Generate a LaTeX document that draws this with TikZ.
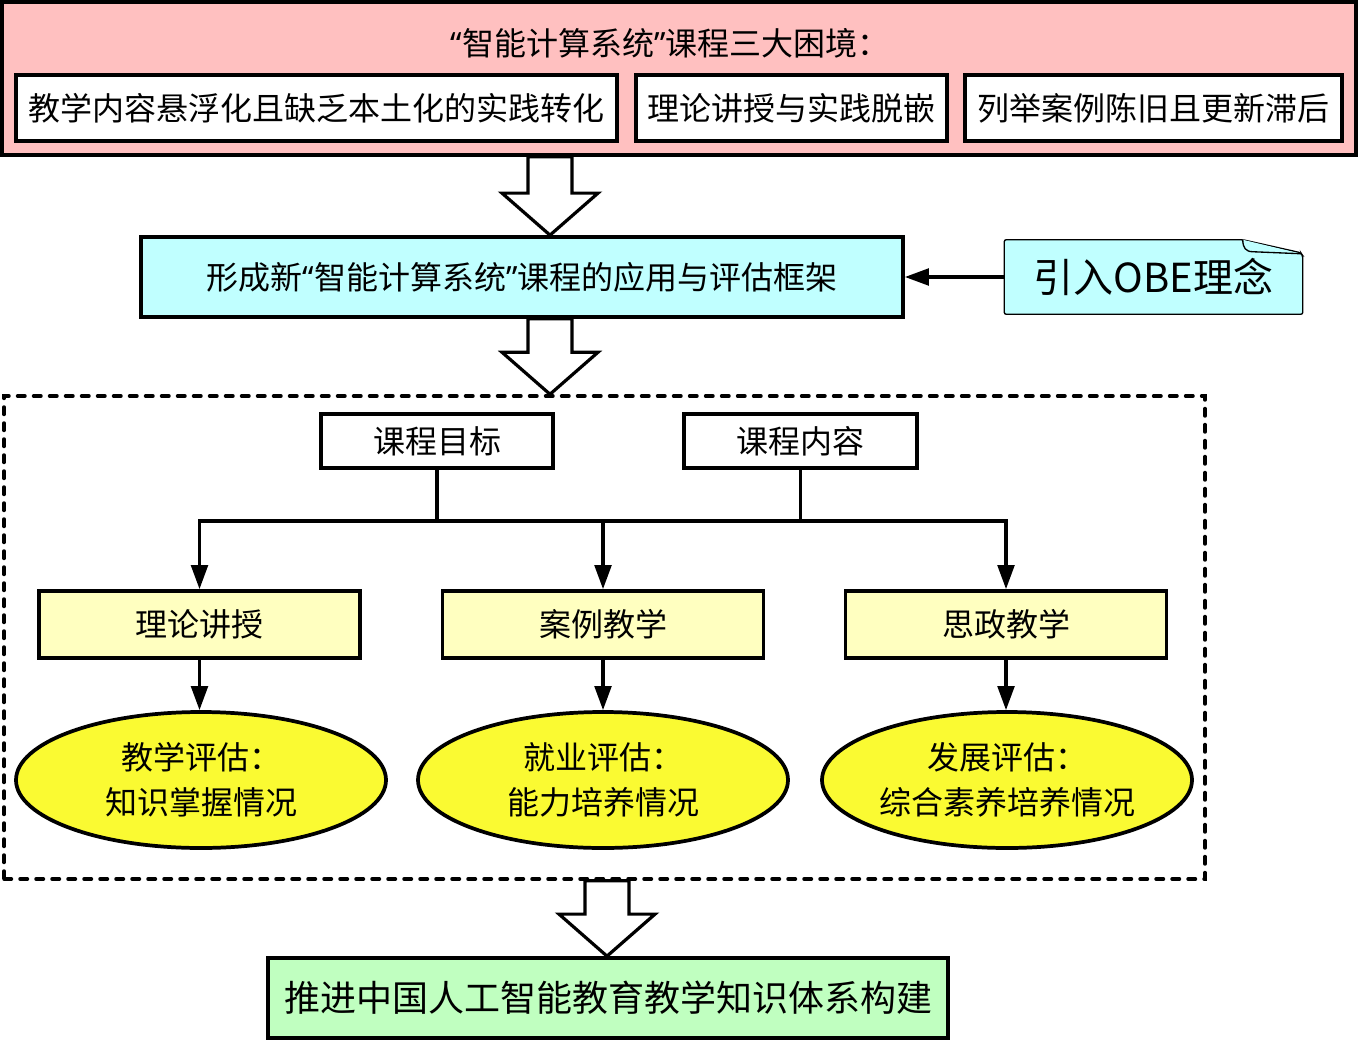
\documentclass[tikz,border=0pt]{standalone}
\usepackage{fontspec}
\setmainfont{Noto Sans CJK SC}
\newfontfamily\latinf{Noto Sans}
\usetikzlibrary{shapes.geometric,arrows.meta,calc}
\definecolor{pinkbg}{RGB}{255,192,192}
\definecolor{cyanbg}{RGB}{192,255,255}
\definecolor{ltyellow}{RGB}{255,255,192}
\definecolor{elyellow}{RGB}{250,250,50}
\definecolor{greenbg}{RGB}{192,255,192}
\newcommand\fs[1]{\fontsize{#1}{1.4\dimexpr#1\relax}\selectfont}
\newcommand\myLQ{{\latinf “}}
\newcommand\myRQ{{\latinf ”}}
\newcommand\blockarr[2]{%
  \draw[hollowarr] let \p1=(#1), \p2=(#2) in
    (\x1-16.5pt,\y1) -- (\x1-16.5pt,\y2+31.5pt) -- (\x1-36pt,\y2+31.5pt) --
    (\x1,\y2) -- (\x1+36pt,\y2+31.5pt) -- (\x1+16.5pt,\y2+31.5pt) --
    (\x1+16.5pt,\y1) -- cycle;}
\begin{document}
\begin{tikzpicture}[x=0.75pt,y=-0.75pt,
  box/.style={draw,line width=2.8pt,inner sep=0pt,align=center},
  ell/.style={ellipse,draw,line width=2.8pt,fill=elyellow,inner sep=0pt,
    minimum width=277.5pt,minimum height=102pt,align=center,font=\fs{24pt}},
  ybox/.style={box,fill=ltyellow,minimum width=240.75pt,minimum height=50.25pt,font=\fs{24pt}},
  wbox/.style={box,fill=white,minimum height=49.5pt,font=\fs{24pt}},
  arr/.style={line width=2.4pt,-{Triangle[length=18pt,width=12.5pt]}},
  conn/.style={line width=2.4pt},
  hollowarr/.style={draw,line width=2.4pt,fill=white,line join=miter}]
\useasboundingbox (0,0) rectangle (1358,1041);
\fill[white] (0,0) rectangle (1358,1041);

% top problem box
\node[box,fill=pinkbg,minimum width=1015.5pt,minimum height=114.75pt] (top) at (679,78.5) {};
\node[font=\fs{24pt}] (title) at (670,43) {\myLQ 智能计算系统\myRQ 课程三大困境：};
\node[wbox,minimum width=450.75pt] (p1) at (316.5,108) {教学内容悬浮化且缺乏本土化的实践转化};
\node[wbox,minimum width=233.25pt] (p2) at (791.5,108) {理论讲授与实践脱嵌};
\node[wbox,minimum width=282.75pt] (p3) at (1153.5,108) {列举案例陈旧且更新滞后};

% framework box
\node[box,fill=cyanbg,minimum width=571.5pt,minimum height=60pt,font=\fs{24pt}] (frame1) at (522,277) {形成新\myLQ 智能计算系统\myRQ 课程的应用与评估框架};

% OBE note
\node[inner sep=0pt,minimum width=223.5pt,minimum height=55.5pt] (note) at (1153.5,277) {};
\draw[line width=1pt,fill=cyanbg,rounded corners=1.5pt] (note.south west) -- (note.north west) -- ($(note.north east)+(-60,0)$)
  -- ($(note.north east)+(-2,13)$) -- ($(note.north east)+(0,16)$) -- (note.south east) -- cycle;
\draw[line width=1pt,fill=cyanbg] ($(note.north east)+(-60,0)$) .. controls ($(note.north east)+(-60,8)$) and ($(note.north east)+(-57,12)$) .. ($(note.north east)+(-50,12)$) -- ($(note.north east)+(-2,14)$);
\node[font=\fs{30pt},inner sep=0pt] (notetext) at (note.center) {引入OBE理念};
\draw[arr] (note.west) -- (frame1.east);

% dashed container
\node[draw,line width=2.6pt,line cap=round,dash pattern=on 5.6pt off 6.4pt,minimum width=900.75pt,minimum height=362.25pt,inner sep=0pt] (cont) at (604.5,637.5) {};

\node[wbox,minimum width=174pt,minimum height=40.5pt] (goal) at (437,441) {课程目标};
\node[wbox,minimum width=174.75pt,minimum height=40.5pt] (content) at (800.5,441) {课程内容};

\node[ybox] (b1) at (199.5,624.5) {理论讲授};
\node[ybox] (b2) at (603,624.5) {案例教学};
\node[ybox] (b3) at (1006,624.5) {思政教学};

\coordinate (hL) at (199.5,521);
\coordinate (hR) at (1006,521);
\draw[conn,line cap=rect] (hL) -- (hR);
\draw[conn] (goal.south) -- (goal.south |- hL);
\draw[conn] (content.south) -- (content.south |- hL);
\draw[arr] (hL) -- (b1.north);
\draw[arr] (b2.north |- hL) -- (b2.north);
\draw[arr] (hR) -- (b3.north);

\node[ell] (e1) at (201,780) {教学评估：\\知识掌握情况};
\node[ell] (e2) at (603,780) {就业评估：\\能力培养情况};
\node[ell] (e3) at (1007,780) {发展评估：\\综合素养培养情况};

\draw[arr] (b1.south) -- (b1.south |- e1.north);
\draw[arr] (b2.south) -- (e2.north);
\draw[arr] (b3.south) -- (b3.south |- e3.north);

% bottom result
\node[box,fill=greenbg,minimum width=510pt,minimum height=60pt,font=\fs{27pt}] (res) at (608,998) {推进中国人工智能教育教学知识体系构建};

% hollow block arrows
\coordinate (a1) at (550,155);
\coordinate (a2) at (550,317);
\coordinate (a3) at (607,879);
\blockarr{top.south -| a1}{frame1.north -| a1}
\blockarr{frame1.south -| a2}{cont.north -| a2}
\blockarr{cont.south -| a3}{res.north -| a3}
\end{tikzpicture}
\end{document}
